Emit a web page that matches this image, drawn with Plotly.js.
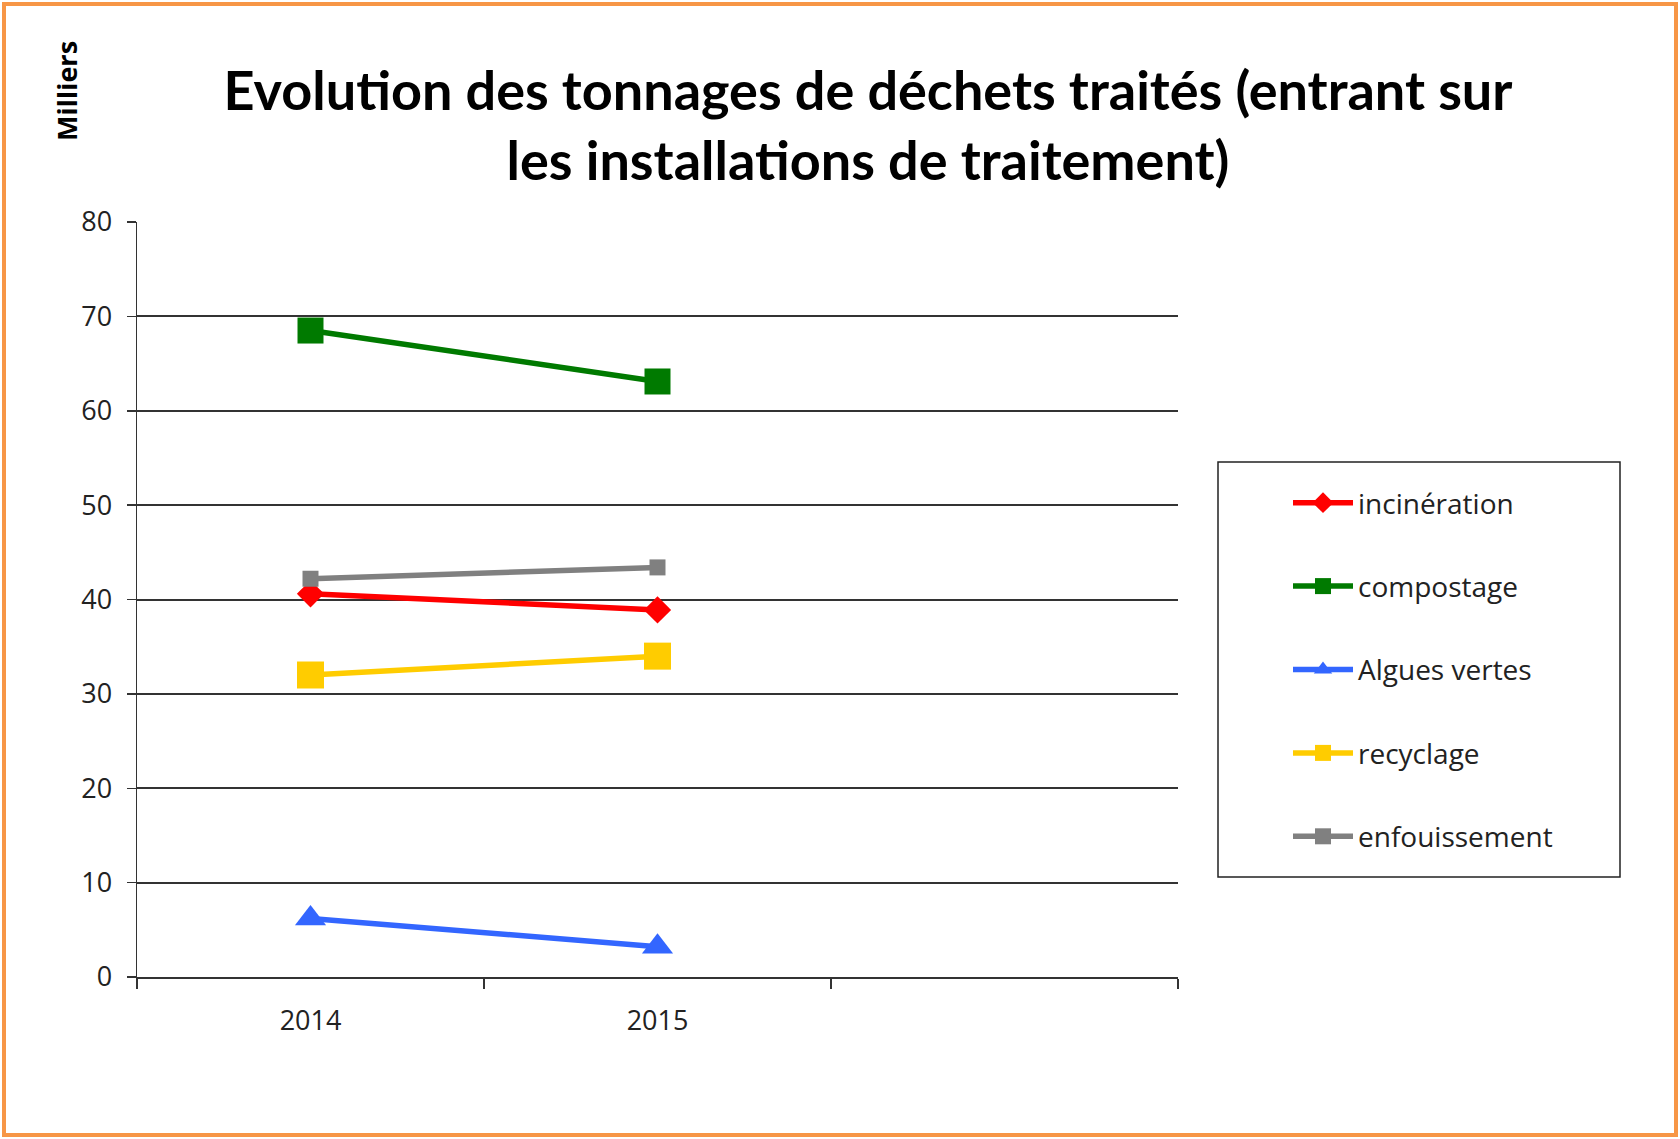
<!DOCTYPE html>
<html>
<head>
<meta charset="utf-8">
<script src="https://cdn.plot.ly/plotly-3.0.1.min.js"></script>
<style>
  html, body { margin: 0; padding: 0; background: #ffffff; }
  #chart { width: 1680px; height: 1139px; }
</style>
</head>
<body>
<div id="chart"></div>
<script>
// ---- Data ----
const categories = ['2014', '2015', ' '];
const years = ['2014', '2015'];
const seriesNames = ['incinération', 'compostage', 'Algues vertes', 'recyclage', 'enfouissement'];
const incineration = [40.6, 38.9];
const compostage = [68.5, 63.1];
const alguesVertes = [6.2, 3.2];
const recyclage = [32.0, 34.0];
const enfouissement = [42.2, 43.4];
const yTicks = [0, 10, 20, 30, 40, 50, 60, 70, 80];
const titleText = 'Evolution des tonnages de déchets traités (entrant sur<br>les installations de traitement)';
const unitLabel = 'Milliers';

// ---- Geometry helpers (pixels -> paper) ----
const W = 1680, H = 1139;
const M = { l: 137, r: 502, t: 222, b: 162 };
const PW = W - M.l - M.r, PH = H - M.t - M.b;
const px = x => (x - M.l) / PW;
const py = y => (H - M.b - y) / PH;

function mk(name, y, color, symbol, size, group) {
  return {
    type: 'scatter', mode: 'lines+markers', name: name,
    x: years, y: y, legendgroup: group,
    line: { color: color, width: 5.5 },
    marker: { color: color, symbol: symbol, size: size },
    cliponaxis: false
  };
}

const traces = [
  mk(seriesNames[0], incineration, '#FF0000', 'diamond', 21, 'g1'),
  mk(seriesNames[1], compostage, '#007A00', 'square', 26, 'g2'),
  mk(seriesNames[2], alguesVertes, '#3366FF', 'triangle-up', 27, 'g3'),
  mk(seriesNames[3], recyclage, '#FFCC00', 'square', 27, 'g4'),
  mk(seriesNames[4], enfouissement, '#808080', 'square', 16, 'g5')
];

const tickFont = { family: 'Open Sans, sans-serif', size: 27, color: '#222' };

const layout = {
  width: W, height: H,
  margin: M,
  paper_bgcolor: '#ffffff', plot_bgcolor: '#ffffff',
  showlegend: true,
  title: {
    text: titleText,
    font: { family: 'Lato, sans-serif', size: 54, color: '#000', weight: 'bold' },
    x: 868 / W, xanchor: 'center', xref: 'container',
    y: 1 - 110 / H, yanchor: 'top', yref: 'container'
  },
  xaxis: {
    type: 'category', categoryorder: 'array', categoryarray: categories,
    range: [-0.5, 2.5], fixedrange: true,
    showgrid: false, zeroline: false,
    showline: true, linecolor: '#333', linewidth: 2,
    ticks: 'outside', tickson: 'boundaries', ticklen: 10, tickwidth: 1.5, tickcolor: '#333',
    tickfont: tickFont, ticklabelstandoff: 19
  },
  yaxis: {
    range: [0, 80], tickmode: 'array', tickvals: yTicks,
    showgrid: true, gridcolor: '#333', gridwidth: 2,
    zeroline: false,
    showline: true, linecolor: '#333', linewidth: 1.5,
    ticks: 'outside', ticklen: 9, tickwidth: 1.5, tickcolor: '#333',
    tickfont: tickFont, ticklabelstandoff: 9
  },
  legend: {
    x: px(1288), xanchor: 'left', y: py(478), yanchor: 'top',
    bgcolor: 'rgba(0,0,0,0)', borderwidth: 0,
    font: { family: 'Open Sans, sans-serif', size: 28, color: '#222' },
    tracegroupgap: 44, itemwidth: 60, traceorder: 'grouped'
  },
  annotations: [{
    text: '<b>' + unitLabel + '</b>', textangle: -90,
    xref: 'paper', yref: 'paper', x: px(67), y: py(91),
    xanchor: 'center', yanchor: 'middle', showarrow: false,
    font: { family: 'Open Sans, sans-serif', size: 27, color: '#000' }
  }],
  shapes: [
    { type: 'rect', xref: 'paper', yref: 'paper',
      x0: px(1218), x1: px(1620), y0: py(462), y1: py(877),
      line: { color: '#222', width: 1.5 }, fillcolor: 'rgba(0,0,0,0)' },
    { type: 'rect', xref: 'paper', yref: 'paper',
      x0: px(4), x1: px(1676), y0: py(4), y1: py(1135),
      line: { color: '#F79646', width: 4 }, fillcolor: 'rgba(0,0,0,0)' }
  ]
};

Plotly.newPlot('chart', traces, layout, { displayModeBar: false, staticPlot: true });
</script>
</body>
</html>
